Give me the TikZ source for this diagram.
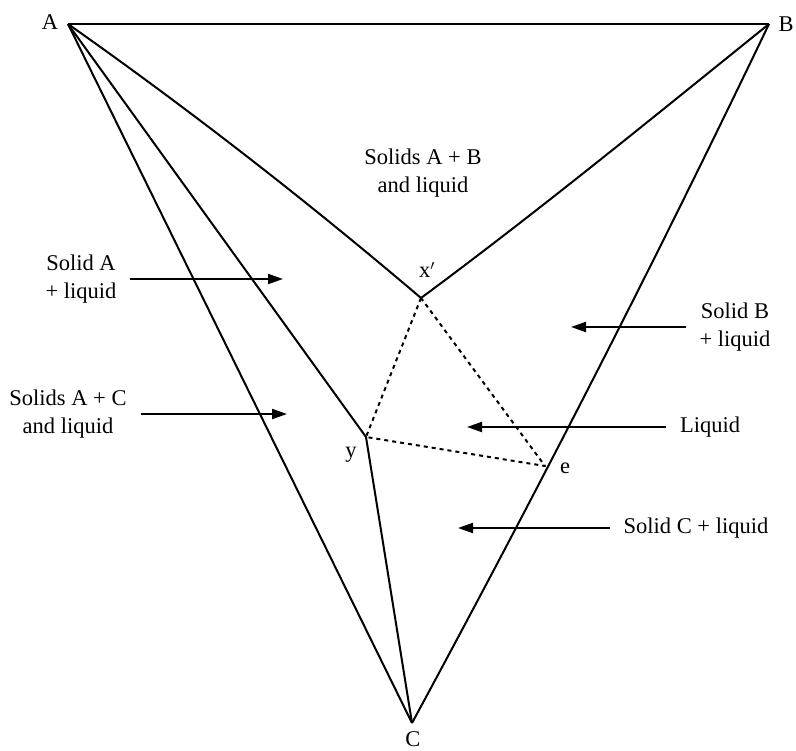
\documentclass[tikz,border=0pt]{standalone}
\usepackage{fontspec}
\setmainfont{Liberation Serif}
\usetikzlibrary{arrows.meta}

\begin{document}
\begin{tikzpicture}[x=1pt, y=-1pt, line width=2pt, line join=round,
  lbl/.style={font=\fontsize{22.5}{28}\selectfont, align=center, inner sep=1pt},
  arr/.style={-{Triangle[length=15pt,width=10pt]}, line width=2pt, shorten <=12pt},
  dot/.style={dash pattern=on 4pt off 4pt, line width=2pt}]
\useasboundingbox (0,0) rectangle (796,751);
\coordinate (A) at (68,24);
\coordinate (B) at (769,24);
\coordinate (C) at (412,723);
\coordinate (xp) at (421,298);
\coordinate (y) at (366,437);
\coordinate (e) at (545,466);
\node[lbl] (lA) at (50,22) {A};
\node[lbl] (lB) at (786,24) {B};
\node[lbl] (lC) at (413,739) {C};
\node[lbl] (lxp) at (427,270) {x$'$};
\node[lbl] (ly) at (351,455) {y};
\node[lbl] (le) at (565,468) {e};
\node[lbl] (lAB) at (423,173) {Solids A + B\\and liquid};
\node[lbl] (lSA) at (81,279) {Solid A\\+ liquid};
\node[lbl] (lSAC) at (68,414) {Solids A + C\\and liquid};
\node[lbl] (lSB) at (735,327) {Solid B\\+ liquid};
\node[lbl] (lL) at (710,427) {Liquid};
\node[lbl] (lSC) at (696,528) {Solid C + liquid};
\coordinate (pSA) at (283,279);
\coordinate (pSAC) at (287,414);
\coordinate (pSB) at (571,327);
\coordinate (pL) at (467,427);
\coordinate (pSC) at (458,528);
\draw (A) -- (B);
\draw (A) -- (C);
\draw (A) -- (y) -- (C);
\draw (A) .. controls (190,110) and (307,201) .. (xp);
\draw (B) .. controls (656,115) and (540,210) .. (xp);
\draw (B) .. controls (656,260) and (537,492) .. (C);
\draw[dot] (xp) -- (y) -- (e) -- cycle;
\draw[arr] (lSA) -- (pSA);
\draw[arr] (lSAC) -- (pSAC);
\draw[arr] (lSB) -- (pSB);
\draw[arr] (lL) -- (pL);
\draw[arr] (lSC) -- (pSC);
\end{tikzpicture}
\end{document}
